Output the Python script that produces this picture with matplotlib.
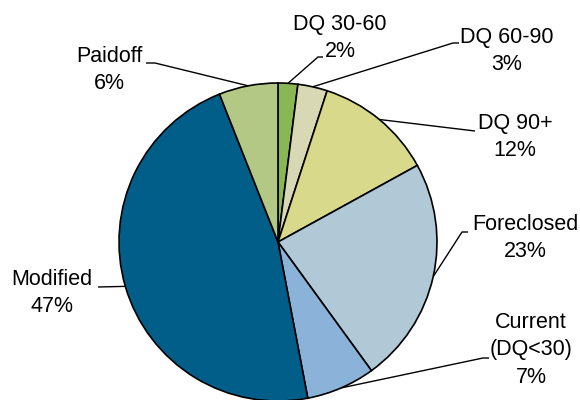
import numpy as np
import matplotlib.pyplot as plt

labels = ["DQ 30-60", "DQ 60-90", "DQ 90+", "Foreclosed", "Current\n(DQ<30)", "Modified", "Paidoff"]
shares = [2, 3, 12, 23, 7, 47, 6]
colors = ["#8ab755", "#d8d8b5", "#d8d98a", "#b1c8d6", "#8bb3d9", "#005e89", "#b4c885"]

# label layout in pixel coords (x, y from top): text centre, elbow, line end
text_xy = [(340, 38), (507, 51), (515, 137), (525, 238), (531, 350), (52, 293), (109, 70)]
elbow = [(318, 57), (453, 43), (475, 131), (462, 232), (483, 358), (98, 287), (155, 63)]
line_end = [(323, 57), (459, 43), (475, 131), (468, 232), (489, 358), (98, 287), (146, 63)]

W, H = 580, 400
cx, cy, r = 278, 242, 159

plt.rcParams["font.family"] = ["Liberation Sans", "DejaVu Sans"]
fig = plt.figure(figsize=(5.8, 4.0), dpi=100)
ax = fig.add_axes([0, 0, 1, 1])

wedges, _ = ax.pie(shares, colors=colors, startangle=90, counterclock=False,
                   center=(cx, H - cy), radius=r,
                   wedgeprops=dict(edgecolor="black", linewidth=1.2))

for i, w in enumerate(wedges):
    mid = np.deg2rad((w.theta1 + w.theta2) / 2)
    ax_ = cx + r * np.cos(mid)
    ay_ = H - cy + r * np.sin(mid)
    ex, ey = elbow[i]
    lx, ly = line_end[i]
    ax.plot([ax_, ex, lx], [ay_, H - ey, H - ly], color="black", lw=1.0,
            solid_capstyle="butt", zorder=3)
    tx, ty = text_xy[i]
    ax.text(tx, H - ty, "%s\n%d%%" % (labels[i], shares[i]), ha="center", va="center",
            fontsize=15.5, linespacing=1.4)

ax.set_xlim(0, W)
ax.set_ylim(0, H)
ax.set_aspect("equal")
ax.axis("off")

fig.savefig("out.png", dpi=100)
